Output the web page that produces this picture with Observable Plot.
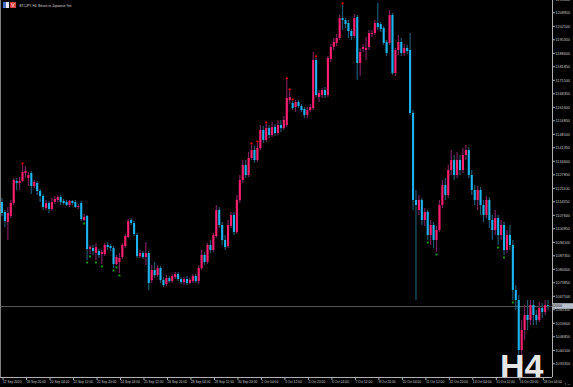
<!DOCTYPE html>
<html><head><meta charset="utf-8">
<script src="https://cdn.jsdelivr.net/npm/d3@7"></script>
<script src="https://cdn.jsdelivr.net/npm/@observablehq/plot@0.6"></script>
<style>html,body{margin:0;padding:0;background:#000;overflow:hidden}</style>
</head><body><div id="chart"></div>
<script>
// OHLC in thousands of JPY: [open, high, low, close], one H4 bar each
const ohlc = [
[1114,1116,1107,1108.5],[1109,1110,1101.5,1104.5],[1104,1111.5,1095,1108.5],[1107,1115,1106,1113.5],[1113.5,1126,1112.5,1125],
[1124.5,1126,1120,1123.5],[1123.5,1126.5,1120,1124.5],[1124.5,1132.5,1124,1129],[1128.5,1132,1126.5,1129.5],[1126,1129,1122,1127.5],
[1128.5,1129.5,1118,1122],[1122,1125,1121,1124],[1123.5,1124.5,1117.5,1119.5],[1119.5,1120.5,1114,1117],[1117,1118,1110,1111.5],
[1111,1115,1110,1113.5],[1113.5,1114.5,1108.5,1110.5],[1110.5,1116,1109.5,1114],[1114,1117,1113,1115.5],[1115,1117.5,1114,1116.5],
[1116.5,1117.5,1112.5,1114],[1114.5,1115.5,1112.5,1113.5],[1114,1115,1112,1112.5],[1112.5,1115,1111.5,1114.5],[1114.5,1115,1112.5,1113.5],
[1114,1115,1111,1111.5],[1111.5,1113,1110.5,1112],[1113.5,1114.5,1104.5,1105.5],[1105,1108,1104.5,1106.5],[1107,1107.5,1085,1090.5],
[1090.5,1092.5,1088,1091.5],[1091,1092.5,1087.5,1089.5],[1088.5,1093.5,1085,1091.5],[1089.5,1090.5,1086,1087.5],[1088,1090,1083,1089],
[1088,1093.5,1087,1092.5],[1092.5,1094,1090,1091.5],[1092,1093,1089.5,1091],[1091,1092,1081,1083],[1083,1087.5,1082.5,1086.5],
[1084,1088.5,1078.5,1086],[1086.5,1093.5,1085.5,1092.5],[1092,1098,1091,1097],[1096.5,1105.5,1096,1104.5],[1105,1106,1102.5,1103.5],
[1103.5,1104.5,1097,1098],[1097.5,1098.5,1086,1087],[1087,1090,1086,1088.5],[1088.5,1089.5,1085.5,1086.5],[1086.5,1094,1082.5,1088.5],
[1088.5,1089.5,1070,1073.5],[1075,1082.5,1073.5,1080],[1080,1084,1076,1077.5],[1077.5,1082.5,1076.5,1081],[1081,1082,1073.5,1075],
[1075,1076.5,1071.5,1072.5],[1073,1077.5,1072,1076],[1076,1077,1073.5,1074.5],[1074.5,1078,1073.5,1077],[1076.5,1079,1075.5,1078],
[1078,1079,1074.5,1075.5],[1075.5,1076.5,1073,1074],[1074,1076.5,1072.5,1075.5],[1075.5,1077,1072.5,1073.5],[1073.5,1076,1073,1075],
[1074.5,1078,1073.5,1077],[1077,1078,1073.5,1074.5],[1074.5,1082.5,1073,1081],[1081,1090,1080,1087.5],[1087.5,1089,1082.5,1084],
[1084,1093.5,1083,1092.5],[1092.5,1095,1088.5,1090],[1090,1098.5,1089,1097.5],[1097,1112.5,1096,1110],[1110,1111.5,1101,1102.5],
[1102.5,1104,1092.5,1095],[1095,1097.5,1090,1091.5],[1092,1105,1091,1102.5],[1102,1109,1101,1107.5],[1107.5,1109,1097.5,1099],
[1099,1117.5,1098,1115],[1115,1127.5,1113.5,1125],[1125,1135,1123.5,1132.5],[1132.5,1135,1126,1127.5],[1127.5,1139,1126.5,1136],
[1136,1142.5,1135,1140],[1140,1142,1133.5,1135],[1135,1143.5,1134,1141],[1141,1152.5,1140,1150],[1150,1152,1143.5,1145],
[1145,1153,1144,1151],[1151,1152.5,1146,1147.5],[1147.5,1154,1146.5,1151.5],[1151.5,1153,1147,1148.5],[1148.5,1155,1147.5,1152.5],
[1152.5,1155,1149,1151],[1151,1157,1150,1155],[1152.5,1175,1151.5,1166],[1165,1169.5,1163,1166.5],[1163.5,1164.5,1160,1161],
[1161.5,1165,1159,1164],[1164,1165,1161,1162],[1162,1163,1159,1160],[1160.5,1161.5,1156,1157.5],[1157.5,1161.5,1156,1160],
[1160,1163,1159,1161.5],[1161,1189,1160,1185],[1185,1186,1166.5,1167.5],[1166.5,1170,1164,1168.5],[1167.5,1171,1166,1170],
[1170,1171.5,1166,1167.5],[1167.5,1187,1166.5,1186],[1185.5,1193,1184,1191.5],[1191.5,1196,1190,1194],[1193.5,1198,1192,1196],
[1196,1207.5,1195,1206],[1206,1212.5,1200,1205],[1205,1206,1201,1203],[1203.5,1205,1196,1199.5],[1199.5,1200.5,1195,1197],
[1197,1208,1196,1206],[1206.5,1207.5,1175,1183.5],[1183.5,1191,1177,1189],[1190.5,1193,1189,1191.5],[1190,1196.5,1185,1191],
[1191.5,1200,1190,1198.5],[1198,1200,1196.5,1198.5],[1198.5,1205,1197.5,1203.5],[1203.5,1213.5,1200,1201.5],[1203,1204,1199,1200.5],
[1201,1202,1192.5,1193.5],[1194,1195,1187,1188.5],[1193.5,1210,1192.5,1207.5],[1207.5,1208.5,1177.5,1178.5],[1178.5,1191,1177,1190],
[1190,1197.5,1187.5,1194],[1194,1196,1187,1188.5],[1188.5,1193,1187,1191],[1191,1192.5,1188,1189.5],[1190,1198.5,1157.5,1158.5],
[1158.5,1160,1110,1115],[1115,1120,1065,1112.5],[1110,1117.5,1107.5,1115],[1115,1116,1102.5,1105],[1105,1111,1102,1109],
[1109,1110,1095,1097.5],[1097.5,1105,1092.5,1102.5],[1102.5,1104,1091,1095],[1095,1102,1089,1100],[1100,1115,1099,1112.5],
[1112.5,1125,1111,1122.5],[1122.5,1126,1115,1117.5],[1117.5,1132.5,1116,1130],[1130,1140,1127.5,1135],[1135,1137.5,1125,1127.5],
[1127.5,1139,1126,1135],[1135,1137.5,1127.5,1130],[1130,1141,1128.5,1137.5],[1137.5,1142.5,1135,1140],[1140,1141.5,1126,1127.5],
[1127.5,1130,1117.5,1120],[1120,1122.5,1112.5,1115],[1115,1122,1110,1120],[1120,1121.5,1107.5,1112.5],[1112.5,1115,1104,1107.5],
[1107.5,1117,1106,1115],[1115,1116.5,1101,1105],[1105,1107.5,1095,1100],[1100,1110,1097.5,1106],[1106,1107.5,1092.5,1097.5],
[1097.5,1105,1095,1102.5],[1102.5,1104,1087.5,1090],[1090,1100,1088.5,1097.5],[1097.5,1102.5,1090,1092.5],[1092.5,1095,1065,1070],
[1070,1072.5,1060,1065],[1065,1067.5,1032.5,1040],[1040,1055,1035,1050],[1050,1062.5,1045,1057.5],[1057.5,1065,1050,1055],
[1055,1065,1052.5,1062.5],[1062.5,1065,1052.5,1057.5],[1057.5,1060,1052.5,1055],[1055,1064,1054,1061],[1061,1063.5,1056,1059],
[1059,1065,1057.5,1062.5],[1062.5,1065,1060,1062]
];
// bar indices of fractal markers
const redDots = [7, 85, 87, 90, 97, 98, 99, 107, 116];
const greenDots = [28, 29, 30, 32, 34, 38, 39, 40, 145, 148, 169, 171, 174, 177];
// x-axis ticks (bar index) and their labels
const xTickIdx = [0,8,16,24,32,40,48,56,64,72,80,88,96,104,112,120,128,136,144,152,160,168,176,184];
const xTickLabels = ["17 Sep 2020","18 Sep 20:00","20 Sep 04:00","21 Sep 12:00","22 Sep 20:00","24 Sep 04:00","25 Sep 12:00","26 Sep 20:00","28 Sep 04:00","29 Sep 12:00","30 Sep 20:00","2 Oct 04:00","3 Oct 12:00","4 Oct 20:00","6 Oct 04:00","7 Oct 12:00","8 Oct 20:00","10 Oct 04:00","11 Oct 12:00","12 Oct 20:00","14 Oct 04:00","15 Oct 12:00","16 Oct 20:00","18 Oct 04:00"];
// price-axis ticks (thousands of JPY)
const yTicks = [1215.60,1208.85,1202.10,1195.35,1188.60,1181.85,1175.10,1168.35,1161.60,1154.85,1148.10,1141.35,1134.60,1127.85,1121.10,1114.35,1107.60,1100.85,1094.10,1087.35,1080.60,1073.85,1067.10,1060.35,1053.60,1046.85,1040.10,1033.35];
const title = "BTCJPY, H4: Bitcoin vs Japanese Yen";
const tfLabel = "H4";

const bull = "#ff1f70", bear = "#1cb4ef";
const bullWick = "#7a1f5e", bearWick = "#1d5a72";
const data = ohlc.map(([o,h,l,c], i) => ({i, o, h, l, c, up: c >= o}));
const lastClose = data[data.length - 1].c;
const fmt = v => d3.format("d")(Math.round(v * 1000));

const chart = Plot.plot({
  width: 573, height: 387,
  marginLeft: 0, marginRight: 21, marginTop: 0, marginBottom: 10,
  style: {background: "#000", color: "#c8c8c8", fontFamily: "'Liberation Sans', Arial, sans-serif"},
  x: {domain: [-0.5, 187.5], axis: null},
  y: {domain: [1026.5, 1215], axis: null},
  color: {type: "identity"},
  marks: [
    Plot.ruleX([-0.5], {stroke: "#808080", strokeWidth: 1}),
    Plot.ruleY([lastClose], {stroke: "#7a7a7a", strokeWidth: 0.7}),
    Plot.ruleX(data, {x: "i", y1: "l", y2: "h", stroke: d => d.up ? bullWick : bearWick, strokeWidth: 1.2}),
    Plot.ruleX(data, {x: "i", y1: "o", y2: d => d.c === d.o ? d.c - 0.4 : d.c, stroke: d => d.up ? bull : bear, strokeWidth: 2.1}),
    Plot.dot(redDots.map(i => data[i]), {x: "i", y: "h", dy: -2, r: 1.1, symbol: "square", fill: "#ff0000"}),
    Plot.dot(greenDots.map(i => data[i]), {x: "i", y: "l", dy: 2, r: 1.1, symbol: "square", fill: "#1e9a1e"}),
    Plot.text([tfLabel], {frameAnchor: "bottom-right", textAnchor: "end", lineAnchor: "bottom", dx: -9, dy: 0, fontSize: 34, fontWeight: "bold", fill: "#e6e6e6"}),
    Plot.text([title], {frameAnchor: "top-left", textAnchor: "start", lineAnchor: "middle", dx: 19, dy: 5.5, fontSize: 4.2, fill: "#dcdcdc"}),
    Plot.ruleX([187.5], {stroke: "#b0b0b0", strokeWidth: 1}),
    Plot.ruleY([1026.5], {stroke: "#b0b0b0", strokeWidth: 1}),
    Plot.axisY(yTicks, {anchor: "right", tickSize: 2, tickPadding: 1, fontSize: 4.3, tickFormat: fmt, stroke: "#b0b0b0", fill: "#c8c8c8"}),
    Plot.axisX(xTickIdx, {anchor: "bottom", tickSize: 3, tickPadding: 0.3, fontSize: 3.7, textAnchor: "start", dx: 1.1,
      tickFormat: d => xTickLabels[xTickIdx.indexOf(d)], stroke: "#b0b0b0", fill: "#c8c8c8"})
  ]
});
document.getElementById("chart").appendChild(chart);

// narrow (condensed) terminal-style lettering for the small texts
const svg = d3.select(chart);
const squeeze = (sel, k) => sel.each(function() {
  const w = this.getComputedTextLength();
  if (w > 0) { this.setAttribute("textLength", (w * k).toFixed(2)); this.setAttribute("lengthAdjust", "spacingAndGlyphs"); }
});
squeeze(svg.selectAll('g[aria-label="x-axis tick label"] text'), 0.88);
squeeze(svg.selectAll('g[aria-label="y-axis tick label"] text'), 0.88);
svg.selectAll('g[aria-label="text"] text').filter(function() { return this.textContent === title; })
  .attr("textLength", 52).attr("lengthAdjust", "spacingAndGlyphs");

// current price badge on the price axis and chart icons
const yPix = chart.scale("y").apply(lastClose);
const xR = chart.scale("x").apply(187.5);
const g = svg.append("g");
g.append("rect").attr("x", xR + 0.5).attr("y", yPix - 2.8).attr("width", 573 - xR).attr("height", 5.6).attr("fill", "#b8c0cc");
const badge = g.append("text").attr("x", xR + 3).attr("y", yPix).attr("dy", "0.35em").attr("font-size", 4.2).attr("fill", "#1a1a1a")
  .attr("font-family", "'Liberation Sans', Arial, sans-serif").text(fmt(lastClose));
squeeze(badge, 0.88);
const ic = svg.append("g");
ic.append("rect").attr("x", 3).attr("y", 2).attr("width", 6).attr("height", 6).attr("fill", "#e8e8f0");
ic.append("rect").attr("x", 3).attr("y", 2).attr("width", 3).attr("height", 6).attr("fill", "#4a6fc8");
ic.append("rect").attr("x", 10).attr("y", 2).attr("width", 6).attr("height", 6).attr("fill", "#d84040");
ic.append("text").attr("x", 13).attr("y", 7.3).attr("text-anchor", "middle").attr("font-size", 5).attr("fill", "#fff").text("V");
</script></body></html>
